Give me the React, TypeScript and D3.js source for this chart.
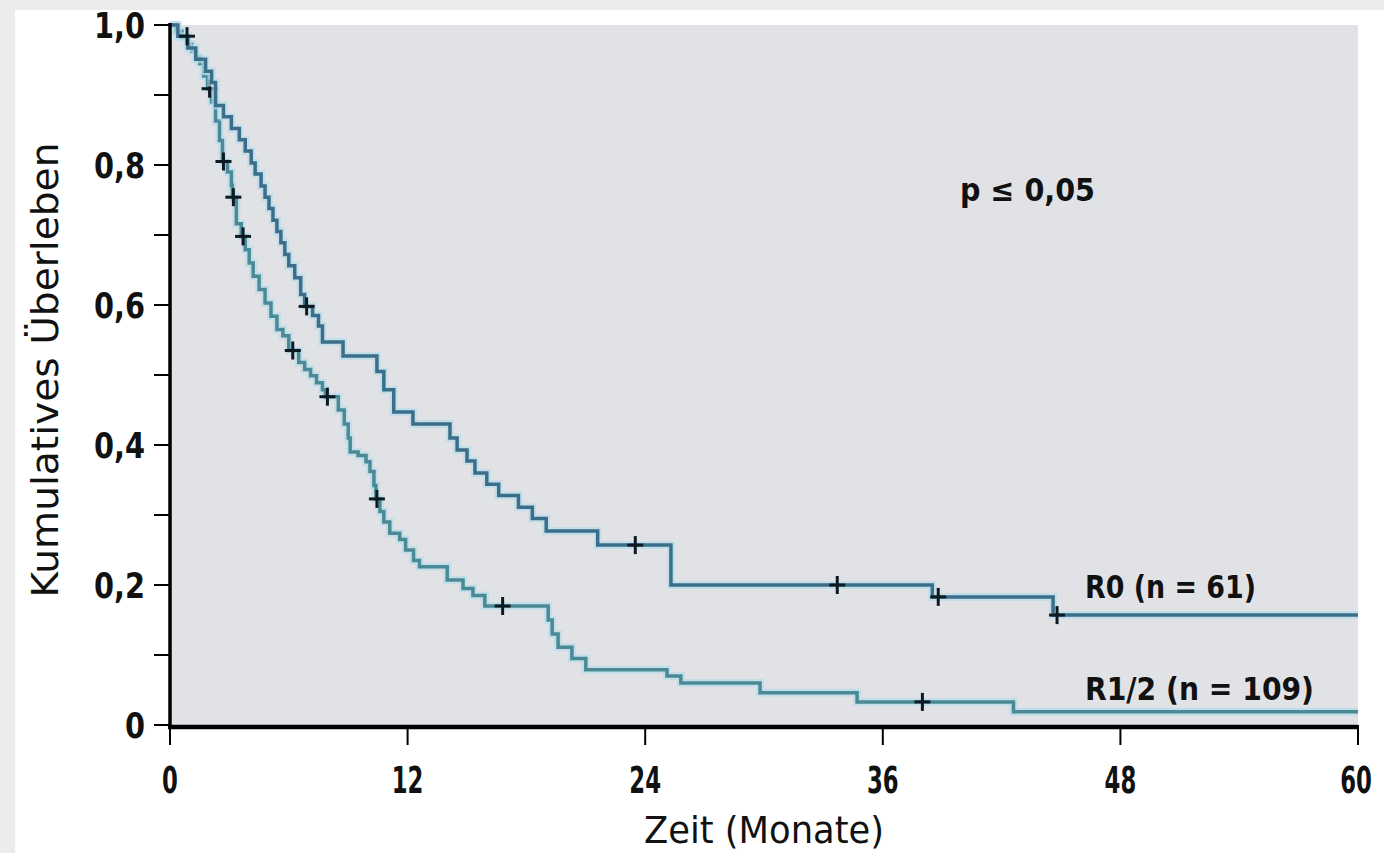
import React from "react";
import * as d3 from "d3";

// ---- data (time in months, cumulative survival) ----
const xTicks = [0, 12, 24, 36, 48, 60];
const yMajorTicks = [0, 0.2, 0.4, 0.6, 0.8, 1.0];
const yMinorTicks = [0.1, 0.3, 0.5, 0.7, 0.9];

const r0Events: [number, number][] = [
  [0.4, 0.984], [0.9, 0.967], [1.3, 0.951], [1.8, 0.934], [2.1, 0.918], [2.3, 0.885],
  [2.7, 0.869], [3.1, 0.852], [3.5, 0.836], [3.8, 0.82], [4.1, 0.803], [4.3, 0.787],
  [4.6, 0.77], [4.8, 0.754], [5.0, 0.738], [5.2, 0.721], [5.4, 0.705], [5.6, 0.689],
  [5.8, 0.672], [6.0, 0.656], [6.3, 0.639], [6.6, 0.615], [6.8, 0.598], [7.2, 0.585],
  [7.5, 0.57], [7.7, 0.547], [8.74, 0.527], [10.45, 0.505], [10.8, 0.479], [11.3, 0.447],
  [12.27, 0.43], [14.14, 0.41], [14.5, 0.393], [15.0, 0.377], [15.4, 0.36], [16.0, 0.344],
  [16.6, 0.328], [17.6, 0.311], [18.3, 0.295], [19.0, 0.277], [21.6, 0.257], [25.3, 0.2],
  [38.5, 0.183], [44.6, 0.157],
];
const r0Censored = [0.86, 6.9, 23.5, 33.7, 38.8, 44.8];

const r12Events: [number, number][] = [
  [0.3, 0.991], [0.6, 0.982], [0.9, 0.972], [1.1, 0.963], [1.3, 0.954], [1.5, 0.945],
  [1.7, 0.927], [1.9, 0.909], [2.1, 0.89], [2.3, 0.863], [2.5, 0.835], [2.65, 0.805],
  [2.9, 0.79], [3.1, 0.771], [3.15, 0.754], [3.35, 0.716], [3.6, 0.698], [3.8, 0.679],
  [4.0, 0.66], [4.2, 0.641], [4.5, 0.622], [4.8, 0.603], [5.1, 0.584], [5.4, 0.565],
  [5.7, 0.556], [6.0, 0.535], [6.5, 0.518], [6.8, 0.508], [7.1, 0.499], [7.4, 0.489],
  [7.7, 0.479], [7.85, 0.469], [8.5, 0.45], [8.8, 0.43], [9.0, 0.41], [9.1, 0.39],
  [9.5, 0.385], [9.9, 0.376], [10.1, 0.362], [10.3, 0.342], [10.4, 0.323], [10.6, 0.305],
  [10.8, 0.29], [11.1, 0.274], [11.6, 0.265], [11.9, 0.25], [12.3, 0.235], [12.6, 0.226],
  [14.0, 0.207], [14.8, 0.195], [15.3, 0.185], [15.9, 0.17], [19.1, 0.15], [19.3, 0.13],
  [19.6, 0.111], [20.3, 0.095], [21.0, 0.079], [25.1, 0.07], [25.8, 0.06], [29.8, 0.046],
  [34.7, 0.033], [42.6, 0.019],
];
const r12Censored = [2.0, 2.7, 3.2, 3.69, 6.2, 7.95, 10.45, 16.8, 38.0];

const seriesLabels = ["R0 (n = 61)", "R1/2 (n = 109)"];
const pLabel = "p ≤ 0,05";
const xTitle = "Zeit (Monate)";
const yTitle = "Kumulatives Überleben";

const W = 1384;
const H = 853;
const FONT = "'DejaVu Sans', 'Liberation Sans', sans-serif";

const x = d3.scaleLinear().domain([0, 60]).range([170, 1358]);
const y = d3.scaleLinear().domain([0, 1]).range([725, 25]);

function fullSteps(ev: [number, number][]): [number, number][] {
  const pts: [number, number][] = [[0, 1], ...ev];
  pts.push([60, ev[ev.length - 1][1]]);
  return pts;
}
function survAt(ev: [number, number][], t: number) {
  let v = 1;
  for (const [et, ev2] of ev) if (et <= t) v = ev2;
  return v;
}

const stepLine = d3
  .line<[number, number]>()
  .x((d) => x(d[0]))
  .y((d) => y(d[1]))
  .curve(d3.curveStepAfter);

const fmt = (v: number) => (v === 0 ? "0" : d3.format(".1f")(v).replace(".", ","));

function Curve({ ev, cens, color }: { ev: [number, number][]; cens: number[]; color: string }) {
  const d = stepLine(fullSteps(ev)) || "";
  return (
    <g>
      <path d={d} fill="none" stroke="#b8dde9" strokeWidth={8} opacity={0.7} />
      <path d={d} fill="none" stroke={color} strokeWidth={3.5} />
      {cens.map((t, i) => {
        const cx = x(t);
        const cy = y(survAt(ev, t));
        return (
          <g key={i} stroke="#0d1a22" strokeWidth={3}>
            <line x1={cx - 8} x2={cx + 8} y1={cy} y2={cy} />
            <line x1={cx} x2={cx} y1={cy - 9} y2={cy + 9} />
          </g>
        );
      })}
    </g>
  );
}

export default function App() {
  return (
    <svg
      width={W}
      height={H}
      style={{ position: "absolute", left: 0, top: 0, display: "block" }}
      fontFamily={FONT}
    >
      <rect x={0} y={0} width={W} height={H} fill="#ececec" />
      <rect x={15} y={10} width={W - 15} height={H - 10} fill="#ffffff" />
      <rect x={x(0)} y={y(1)} width={x(60) - x(0)} height={y(0) - y(1)} fill="#e1e2e6" />

      <Curve ev={r12Events} cens={r12Censored} color="#4a8a96" />
      <Curve ev={r0Events} cens={r0Censored} color="#3a6e8a" />

      {/* y axis */}
      <line x1={x(0)} x2={x(0)} y1={y(1) - 2} y2={y(0) + 3} stroke="#000" strokeWidth={3.5} />
      {yMajorTicks.concat(yMinorTicks).map((v) => (
        <line key={v} x1={x(0) - 16} x2={x(0)} y1={y(v)} y2={y(v)} stroke="#000" strokeWidth={2} />
      ))}
      {yMajorTicks.map((v) => {
        const s = fmt(v);
        return (
          <text
            key={v}
            transform={`translate(145, ${y(v)}) scale(0.8, 1)`}
            dy="0.36em"
            textAnchor="end"
            fontSize={36}
            fontWeight={600}
            fill="#111"
          >
            {s}
          </text>
        );
      })}
      {/* x axis */}
      <line x1={x(0) - 2} x2={x(60)} y1={y(0) + 2} y2={y(0) + 2} stroke="#000" strokeWidth={4.5} />
      {xTicks.map((t) => {
        const s = String(t);
        return (
          <g key={t}>
            <line x1={x(t)} x2={x(t)} y1={y(0)} y2={y(0) + 20} stroke="#000" strokeWidth={2} />
            <text
              transform={`translate(${t === 60 ? x(t) - 2 : x(t)}, 793) scale(0.6, 1)`}
              textAnchor="middle"
              fontSize={38}
              fontWeight={600}
              fill="#111"
            >
              {s}
            </text>
          </g>
        );
      })}

      <text
        x={(x(0) + x(60)) / 2}
        y={843}
        textAnchor="middle"
        fontSize={38}
        fill="#111"
        textLength={240}
        lengthAdjust="spacingAndGlyphs"
      >
        {xTitle}
      </text>
      <text
        transform={`translate(58, 370) rotate(-90)`}
        textAnchor="middle"
        fontSize={38}
        fill="#111"
        textLength={455}
        lengthAdjust="spacingAndGlyphs"
      >
        {yTitle}
      </text>

      <text x={960} y={201} fontSize={32} fontWeight={600} fill="#111" textLength={135} lengthAdjust="spacingAndGlyphs">
        {pLabel}
      </text>
      <text x={1085} y={598} fontSize={32} fontWeight={600} fill="#111" textLength={171} lengthAdjust="spacingAndGlyphs">
        {seriesLabels[0]}
      </text>
      <text x={1085} y={700} fontSize={32} fontWeight={600} fill="#111" textLength={229} lengthAdjust="spacingAndGlyphs">
        {seriesLabels[1]}
      </text>
    </svg>
  );
}
